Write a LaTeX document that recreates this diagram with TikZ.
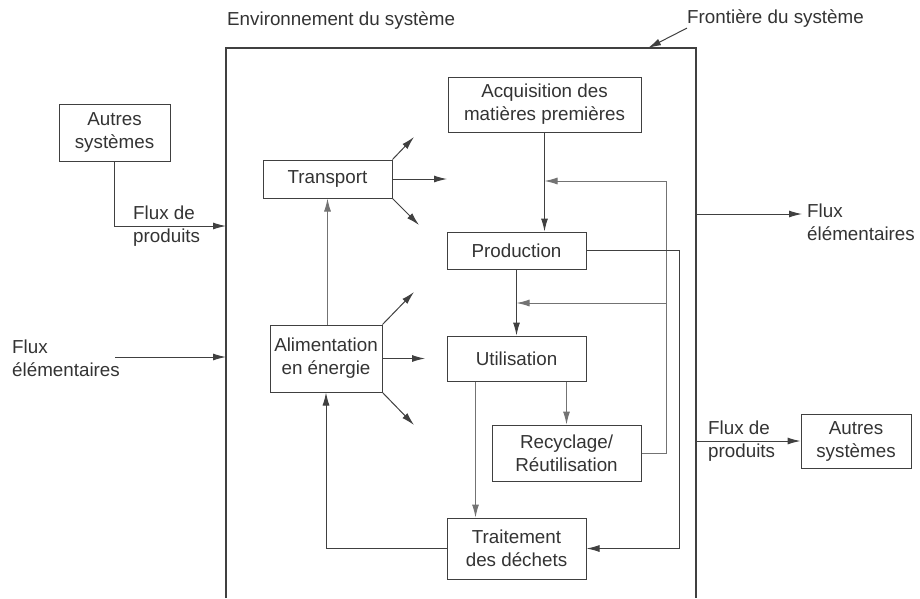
\documentclass[tikz,border=0pt]{standalone}
\usepackage{fontspec}
\setmainfont{Liberation Sans}
\usetikzlibrary{arrows.meta, positioning}

\begin{document}
\begin{tikzpicture}[x=1pt, y=-1pt, font=\fontsize{18.8}{23}\selectfont,
		box/.style={draw=black!75, line width=1pt, text=black!80, align=center, inner sep=2pt},
		flow/.style={draw=black!75, line width=1pt, -{Latex[length=13pt,width=7pt]}},
		back/.style={flow, draw=black!55},
		lbl/.style={text=black!80, align=left, inner sep=0pt}]
		\useasboundingbox (0,0) rectangle (920,598);

		% Add the system boundary
		\coordinate (sysSW) at (226,598);
		\coordinate (sysNE) at (696,48);
		\coordinate (sysSE) at (696,598);
		\draw[draw=black!75, line width=1.3pt] (sysSW) |- (sysNE) -- (sysSE);
		\node[lbl, anchor=west] (envlbl) at (227,21) {Environnement du système};
		\node[lbl, anchor=west] (frontlbl) at (687,19) {Frontière du système};
		\coordinate (front) at (648,48);

		% Add the boxes
		\node[box, minimum width=193, minimum height=55] (acq) at (544.5,104.5) {Acquisition des\\matières premières};
		\node[box, minimum width=129, minimum height=38] (transport) at (327.5,179) {Transport};
		\node[box, minimum width=139, minimum height=37] (prod) at (516.5,250.5) {Production};
		\node[box, minimum width=139, minimum height=45] (util) at (516.5,358.5) {Utilisation};
		\node[box, minimum width=112, minimum height=67] (alim) at (326,358.5) {Alimentation\\en énergie};
		\node[box, minimum width=149, minimum height=56] (recy) at (566.5,453) {Recyclage/\\Réutilisation};
		\node[box, minimum width=139, minimum height=61] (trait) at (516.5,548.5) {Traitement\\des déchets};
		\node[box, minimum width=111, minimum height=57] (autresL) at (114.5,132.5) {Autres\\systèmes};
		\node[box, minimum width=110, minimum height=54] (autresR) at (856,441) {Autres\\systèmes};

		% Flows in and out of the system
		\coordinate (inP) at (226,226);
		\coordinate (srcE) at (115,357);
		\coordinate (inE) at (226,357);
		\coordinate (outE) at (696,214);
		\coordinate (dstE) at (802,214);
		\coordinate (outP) at (696,441);
		\node[lbl, anchor=west] (prodL) at (133,226) {Flux de\\produits};
		\node[lbl, anchor=west] (elemL) at (12,358) {Flux\\élémentaires};
		\node[lbl, anchor=west] (elemR) at (807,222) {Flux\\élémentaires};
		\node[lbl, anchor=west] (prodR) at (708,441) {Flux de\\produits};

		% Free ends of the energy and transport flows
		\coordinate (t1) at (414,137);
		\coordinate (t2) at (447,179);
		\coordinate (t3) at (419,225);
		\coordinate (a1) at (414,292);
		\coordinate (a2) at (425,358.5);
		\coordinate (a3) at (414,425);

		% Feedback and waste lines
		\coordinate (rbus) at (666,181);
		\coordinate (rmid) at (666,303);
		\coordinate (pbus) at (679,400);

		% Connect the boxes with arrows
		\draw[flow] (frontlbl.south west) -- (front);
		\draw[flow] (autresL.south) |- (inP);
		\draw[flow] (srcE) -- (inE);
		\draw[flow] (outE) -- (dstE);
		\draw[flow] (outP) -- (autresR.west);
		\draw[flow] (acq.south) -- (acq.south |- prod.north);
		\draw[flow] (prod.south) -- (util.north);
		\draw[back] (recy.east) -| (rbus) -- (rbus -| acq.south);
		\draw[back] (rmid) -- (rmid -| prod.south);
		\draw[flow] (prod.east) -| (pbus) |- (trait.east);
		\draw[back] ([xshift=-41pt]util.south) -- ([xshift=-41pt]trait.north);
		\draw[back] (util.south -| recy.north) -- (recy.north);
		\draw[flow] (trait.west) -| (alim.south);
		\draw[back] (alim.north -| transport.south) -- (transport.south);
		\draw[flow] (transport.north east) -- (t1);
		\draw[flow] (transport.east) -- (t2);
		\draw[flow] (transport.south east) -- (t3);
		\draw[flow] (alim.north east) -- (a1);
		\draw[flow] (alim.east) -- (a2);
		\draw[flow] (alim.south east) -- (a3);
	\end{tikzpicture}
\end{document}
